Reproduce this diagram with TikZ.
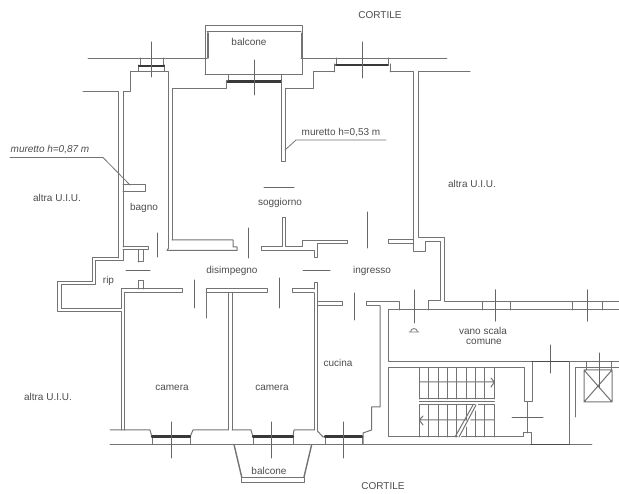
\documentclass[tikz,border=0pt]{standalone}
\usepackage{fontspec}
\setmainfont{Liberation Sans}
\begin{document}
\begin{tikzpicture}[x=1pt,y=-1pt,line
			join=round,line
			cap=round,font=\fontsize{10}{11}\selectfont,text=black!70,
			muro/.style={draw=black!55,line width=1pt},
			sottile/.style={draw=black!55,line width=.8pt},
			apertura/.style={draw=black!60,line width=1pt},
			vetro/.style={draw=black!78,line width=2.4pt}]
			\useasboundingbox (0,0) rectangle (619,494);
			\def\yt{58}
			\def\yb{444.5}
			% balcone in alto e filo cortile
			\draw[muro] (205,58)--(205,26)--(302,26)--(302,58)
			(205,74.5)--(205,58) (302,58)--(302,74.5)--(205,74.5)
			(207,32)--(301,32);
			\draw[draw=black!55,line width=2pt] (208,33)--(208,58);
			\draw[muro] (301,33)--(301,58);
			\draw[sottile] (88,\yt)--(207,\yt) (301,\yt)--(447,\yt);
			% finestre in alto
			\draw[muro] (140,\yt)--(140,65) (163,\yt)--(163,65)
			(138.5,65)--(138.5,71) (164.5,65)--(164.5,71);
			\draw[vetro] (139,66)--(164,66);
			\draw[apertura] (151,42)--(151,77);
			\draw[muro] (228,74.5)--(228,81) (281,74.5)--(281,81);
			\draw[vetro] (227,81.5)--(281,81.5);
			\draw[apertura] (254,60)--(254,95);
			\draw[muro] (336,\yt)--(336,64) (388,\yt)--(388,64)
			(334,64)--(334,72) (390,64)--(390,72);
			\draw[vetro] (336,65)--(388,65);
			\draw[apertura] (362.5,42)--(362.5,78);
			% bagno e soggiorno
			\draw[muro] (83,92)--(118,92)--(118,258);
			\draw[muro] (123,247)--(123,92)--(130,92)--(130,71.5)--(168.5,71.5)--(168.5,248);
			\draw[muro] (172,240)--(172,88.5)--(226.5,88.5)--(226.5,81)--(228,81);
			\draw[muro] (281.5,81)--(281.5,161.5)--(285,161.5)--(285,88.5)--(313,88.5)--(313,71.5)--(334,71.5);
			\draw[muro] (390,71.5)--(413,71.5)--(413,240);
			\draw[muro] (470,71.5)--(418,71.5)--(418,238)--(444,238)--(444,302)--(619,302);
			\draw[muro] (123,185)--(145,185)--(145,192)--(123,192);
			\draw[sottile] (10,157.5)--(103,157.5)--(130,185);
			\draw[sottile] (285,150)--(296,140)--(386,140);
			\draw[apertura] (264,188)--(294,188);
			% tramezzi sul disimpegno
			\draw[muro] (172,240)--(233,240)--(233,247)--(237,247)--(237,250.5)--(167,250.5)--(168.5,248);
			\draw[muro] (123,247)--(148,247)--(148,250)--(123,250);
			\draw[muro] (138,250)--(138,262) (143,250)--(143,262)--(138,262);
			\draw[apertura] (157.5,233)--(157.5,257);
			\draw[apertura] (248,228)--(248,258);
			\draw[muro] (282,218)--(285,218)--(285,247)--(302,247)--(302,240.5)--(347,240.5)--(347,243.5)--(317,243.5)--(317,258)--(314,258)--(314,251)--(261,251)--(261,247)--(282,247)--cycle;
			\draw[apertura] (367,212)--(367,248);
			\draw[muro] (413,240)--(388,240)--(388,244)--(413,244);
			\draw[muro] (413,240)--(413,252)--(425,252)--(425,242)--(440,242)--(440,301)--(428,301)--(428,310);
			\draw[apertura] (126,271)--(150,271);
			\draw[apertura] (303,271)--(330,271);
			% ripostiglio
			\draw[muro] (118,258)--(92,258)--(92,282)--(57,282)--(57,312)--(121,312)--(121,430);
			\draw[muro] (123,250)--(123,260.5)--(95,260.5)--(95,285)--(61,285)--(61,309)--(121,309)--(121,289)--(182,289)--(182,293)--(124,293)--(124,430);
			\draw[muro] (138,289)--(138,281)--(143,281)--(143,289);
			% camere
			\draw[apertura] (194,280)--(194,308);
			\draw[muro] (206,318)--(206,289)--(267,289)--(267,293)--(206,293);
			\draw[muro] (228,293)--(228,430) (232,293)--(232,430);
			\draw[apertura] (279,278)--(279,308);
			\draw[muro] (314,289)--(292,289)--(292,293)--(314,293);
			\draw[muro] (314,293)--(314,430);
			\draw[muro] (314,289)--(314,283)--(317.5,283)--(317.5,431);
			\draw[muro] (317.5,302)--(342,302)--(342,306)--(317.5,306);
			\draw[apertura] (354,293)--(354,320);
			\draw[muro] (380,306)--(366,306)--(366,302)--(399,302)--(399,310);
			\draw[muro] (380,306)--(380,407)--(371.5,407)--(371.5,430)--(363,433)--(363,\yb);
			% filo in basso e finestre
			\draw[sottile] (110,\yb)--(592,\yb);
			\draw[muro] (110,430)--(150,430)--(152,437)--(190,437)--(193,430)--(228,430);
			\draw[muro] (232,430)--(251,430)--(253,437)--(293,437)--(294,430)--(314,430);
			\draw[muro] (317.5,431)--(323,437)--(363,437);
			\foreach \xa/\xb/\xc in {152/190/171.5,253/293/271.7,325/362/343}{
				\draw[muro] (\xa,437)--(\xa,\yb) (\xb,437)--(\xb,\yb);
				\draw[vetro] (\xa,436.5)--(\xb,436.5);
				\draw[apertura] (\xc,422)--(\xc,458);
			}
			% balcone in basso
			\draw[muro,line width=1.4pt] (234,\yb)--(241.7,477);
			\draw[muro,line width=1.4pt] (304,477)--(311.7,\yb);
			\draw[muro] (241.7,477)--(241.7,482.5)--(304,482.5)--(304,477)--cycle;
			% vano scala
			\draw[muro] (388,320)--(388,310)--(619,310);
			\draw[muro] (388,310)--(388,361.7)--(619,361.7);
			\foreach \xa/\xb in {482/495,510/495,572/587,602/587}{
				\draw[muro] (\xa,302)--(\xa,310);
				\draw[apertura] (\xb,290)--(\xb,321);
			}
			\draw[apertura] (414,290)--(414,323);
			\draw[sottile] (409,332)--(419,332) (410.5,332) arc (180:360:3.5);
			\draw[muro] (524,367.5)--(388,367.5)--(388,437)--(523,437)--(523,433)--(531,433)--(531,\yb);
			\draw[muro] (524,367.5)--(524,402)--(532,402)--(532,361.7);
			\draw[muro] (527.5,402)--(527.5,433);
			\draw[apertura] (512,418)--(543,418);
			\draw[apertura] (550,345)--(550,373);
			\draw[draw=black!70,line width=1.5pt] (532,361.7)--(569,361.7);
			\draw[muro] (569,361.7)--(569,\yb);
			\draw[draw=black!70,line width=1.5pt] (531,\yb)--(569,\yb);
			\draw[muro] (575,417)--(575,368)--(619,368);
			\draw[muro] (586,361.7)--(586,370) (611,361.7)--(611,370);
			\draw[muro] (584,370) rectangle (612,402) (584,370)--(612,402) (612,370)--(584,402);
			\draw[apertura] (599,353)--(599,388);
			% rampe
			\pgfmathsetmacro\passo{(494.3-419.3)/8}
			\foreach \i in {0,...,8}{
				\pgfmathsetmacro\xg{419.3+\i*\passo}
				\draw[muro] (\xg,367.5)--(\xg,399) (\xg,405)--(\xg,437);
			}
			\draw[muro] (419.3,399)--(494.3,399) (419.3,405)--(494.3,405);
			\draw[muro] (419.3,401.5)--(494.3,401.5);
			\draw[muro] (419.3,382)--(494.3,382) (491,378)--(494.3,382)--(491,387);
			\draw[muro] (419.3,420)--(494.3,420) (423,416)--(419.3,420)--(423,425);
			\draw[draw=white,line width=3pt] (459,437)--(477,405);
			\draw[muro] (455,437)--(473,405) (459,437)--(476,405);
			% scritte
			\node (cortilesu) at (380,15) {CORTILE};
			\node (cortilegiu) at (383,486) {CORTILE};
			\node (balconesu) at (249,42) {balcone};
			\node (balconegiu) at (269,471) {balcone};
			\node[font=\fontsize{10}{11}\selectfont\itshape] (murettosx) at (50,150) {muretto h=0,87 m};
			\node (murettodx) at (341,133) {muretto h=0,53 m};
			\node (uiusx) at (57,198) {altra U.I.U.};
			\node (uiudx) at (472,184) {altra U.I.U.};
			\node (uiugiu) at (48,397) {altra U.I.U.};
			\node (bagno) at (144,208) {bagno};
			\node (soggiorno) at (280,203) {soggiorno};
			\node (rip) at (108.5,281) {rip};
			\node (disimpegno) at (232,271) {disimpegno};
			\node (ingresso) at (372,271) {ingresso};
			\node (cameraa) at (172,388) {camera};
			\node (camerab) at (272,388) {camera};
			\node (cucina) at (338,363) {cucina};
			\node (vano) at (483,331) {vano scala};
			\node (comune) at (484,342) {comune};
	\end{tikzpicture}
\end{document}
